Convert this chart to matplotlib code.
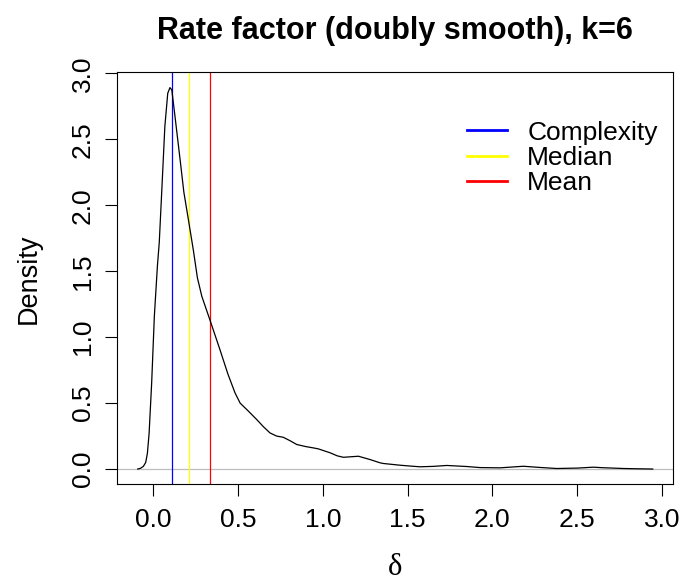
"""
Densita' del fattore di rate (doubly smooth, k=6) con complessita', mediana e media
"""
import matplotlib
matplotlib.use('Agg')
import matplotlib.pyplot as plt
from matplotlib.lines import Line2D

# curva di densita'
delta = [-0.092, -0.075, -0.059, -0.045, -0.035, -0.025, -0.01, 0.006, 0.024, 0.035,
         0.049, 0.068, 0.085, 0.098, 0.109, 0.13, 0.158, 0.18, 0.207, 0.236,
         0.26, 0.286, 0.334, 0.393, 0.44, 0.482, 0.512, 0.56, 0.61, 0.65,
         0.688, 0.727, 0.766, 0.806, 0.846, 0.9, 0.945, 0.973, 1.043, 1.085,
         1.121, 1.165, 1.21, 1.278, 1.338, 1.357, 1.455, 1.52, 1.573, 1.65,
         1.731, 1.79, 1.849, 1.927, 2.045, 2.183, 2.28, 2.38, 2.5, 2.596,
         2.65, 2.714, 2.773, 2.85, 2.946]
density = [0.0, 0.006, 0.02, 0.05, 0.12, 0.27, 0.65, 1.16, 1.54, 1.72,
           2.09, 2.60, 2.85, 2.893, 2.875, 2.65, 2.345, 2.1, 1.89, 1.66,
           1.45, 1.31, 1.13, 0.905, 0.72, 0.577, 0.50, 0.44, 0.375, 0.32,
           0.274, 0.25, 0.241, 0.215, 0.186, 0.17, 0.16, 0.153, 0.123, 0.1,
           0.089, 0.093, 0.097, 0.072, 0.047, 0.042, 0.029, 0.022, 0.017, 0.02,
           0.027, 0.023, 0.019, 0.011, 0.009, 0.021, 0.012, 0.004, 0.007, 0.014,
           0.01, 0.007, 0.004, 0.002, 0.0]

# linee verticali
stat_names = ["Complexity", "Median", "Mean"]
stat_values = [0.110, 0.212, 0.333]
stat_colors = ["#0000FF", "#FFFF00", "#FF0000"]

x_ticks = [0.0, 0.5, 1.0, 1.5, 2.0, 2.5, 3.0]
y_ticks = [0.0, 0.5, 1.0, 1.5, 2.0, 2.5, 3.0]

plt.rcParams['font.family'] = ['Liberation Sans', 'DejaVu Sans']

fig = plt.figure(figsize=(6.85, 5.85), dpi=100)
ax = fig.add_axes([0.1704, 0.1721, 0.8117, 0.7043])

ax.axhline(0, color='#BEBEBE', lw=0.9, zorder=1)
ax.plot(delta, density, color='black', lw=0.9, zorder=3)
for v, c in zip(stat_values, stat_colors):
    ax.axvline(v, color=c, lw=0.9, zorder=2)

ax.set_xlim(-0.216, 3.064)
ax.set_ylim(-0.116, 3.009)
ax.set_xticks(x_ticks)
ax.set_yticks(y_ticks)
ax.set_xticklabels(["{0:.1f}".format(t) for t in x_ticks])
ax.set_yticklabels(["{0:.1f}".format(t) for t in y_ticks], rotation=90, va='center')
ax.tick_params(axis='both', direction='out', length=8.3, width=0.8, labelsize=19, color='black')
ax.tick_params(axis='x', pad=9)
ax.tick_params(axis='y', pad=7.5)
for s in ax.spines.values():
    s.set_linewidth(0.8)

ax.set_title("Rate factor (doubly smooth), k=6", fontsize=22, fontweight='bold', pad=24)
ax.set_ylabel("Density", fontsize=19.5, labelpad=21)
ax.set_xlabel("δ", fontsize=22, family=['Liberation Serif', 'DejaVu Serif'], labelpad=15)

handles = [Line2D([], [], color=c, lw=2) for c in stat_colors]
ax.legend(handles, stat_names, loc='upper left', bbox_to_anchor=(0.630, 0.883),
          frameon=False, fontsize=19, handlelength=1.52, handletextpad=0.76,
          labelspacing=0.05, borderpad=0, borderaxespad=0)

fig.savefig('out.png', dpi=100)
